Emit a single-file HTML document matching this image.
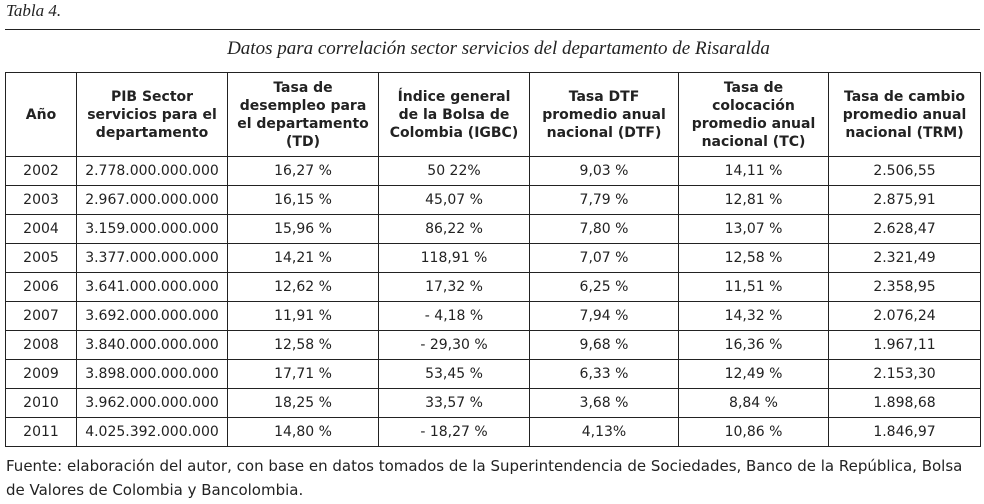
<!DOCTYPE html>
<html><head><meta charset="utf-8"><style>
body{margin:0;width:984px;height:504px;background:#fff;position:relative;font-family:"DejaVu Sans","Liberation Sans",sans-serif;color:#222;overflow:hidden}
.lbl{position:absolute;left:6px;top:1px;font:italic 17px "Liberation Serif",serif}
.rule{position:absolute;left:5px;top:29px;width:975px;height:1px;background:#222}
.title{position:absolute;left:11px;width:975px;top:38px;text-align:center;font:italic 19px "Liberation Serif",serif}
table{position:absolute;left:5px;top:72px;border-collapse:collapse;table-layout:fixed;width:975px}
td,th{border:1px solid #222;text-align:center;font-size:14px;padding:0;line-height:17px}
th{height:83px;font-weight:bold;font-size:14px;line-height:18px}
td{height:28px}
.foot{position:absolute;left:6px;top:454px;font-size:15px;line-height:24px;width:978px;white-space:nowrap}
</style></head><body>
<div class="lbl">Tabla 4.</div>
<div class="rule"></div>
<div class="title">Datos para correlación sector servicios del departamento de Risaralda</div>
<table>
<colgroup><col style="width:71px"><col style="width:151px"><col style="width:151px"><col style="width:151px"><col style="width:149px"><col style="width:150px"><col style="width:152px"></colgroup>
<tr><th>Año</th><th>PIB Sector<br>servicios para el<br>departamento</th><th>Tasa de<br>desempleo para<br>el departamento<br>(TD)</th><th>Índice general<br>de la Bolsa de<br>Colombia (IGBC)</th><th>Tasa DTF<br>promedio anual<br>nacional (DTF)</th><th>Tasa de<br>colocación<br>promedio anual<br>nacional (TC)</th><th>Tasa de cambio<br>promedio anual<br>nacional (TRM)</th></tr>
<tr><td>2002</td><td>2.778.000.000.000</td><td>16,27 %</td><td>50 22%</td><td>9,03 %</td><td>14,11 %</td><td>2.506,55</td></tr>
<tr><td>2003</td><td>2.967.000.000.000</td><td>16,15 %</td><td>45,07 %</td><td>7,79 %</td><td>12,81 %</td><td>2.875,91</td></tr>
<tr><td>2004</td><td>3.159.000.000.000</td><td>15,96 %</td><td>86,22 %</td><td>7,80 %</td><td>13,07 %</td><td>2.628,47</td></tr>
<tr><td>2005</td><td>3.377.000.000.000</td><td>14,21 %</td><td>118,91 %</td><td>7,07 %</td><td>12,58 %</td><td>2.321,49</td></tr>
<tr><td>2006</td><td>3.641.000.000.000</td><td>12,62 %</td><td>17,32 %</td><td>6,25 %</td><td>11,51 %</td><td>2.358,95</td></tr>
<tr><td>2007</td><td>3.692.000.000.000</td><td>11,91 %</td><td>- 4,18 %</td><td>7,94 %</td><td>14,32 %</td><td>2.076,24</td></tr>
<tr><td>2008</td><td>3.840.000.000.000</td><td>12,58 %</td><td>- 29,30 %</td><td>9,68 %</td><td>16,36 %</td><td>1.967,11</td></tr>
<tr><td>2009</td><td>3.898.000.000.000</td><td>17,71 %</td><td>53,45 %</td><td>6,33 %</td><td>12,49 %</td><td>2.153,30</td></tr>
<tr><td>2010</td><td>3.962.000.000.000</td><td>18,25 %</td><td>33,57 %</td><td>3,68 %</td><td>8,84 %</td><td>1.898,68</td></tr>
<tr><td>2011</td><td>4.025.392.000.000</td><td>14,80 %</td><td>- 18,27 %</td><td>4,13%</td><td>10,86 %</td><td>1.846,97</td></tr>
</table>
<div class="foot">Fuente: elaboración del autor, con base en datos tomados de la Superintendencia de Sociedades, Banco de la República, Bolsa<br>de Valores de Colombia y Bancolombia.</div>
</body></html>
